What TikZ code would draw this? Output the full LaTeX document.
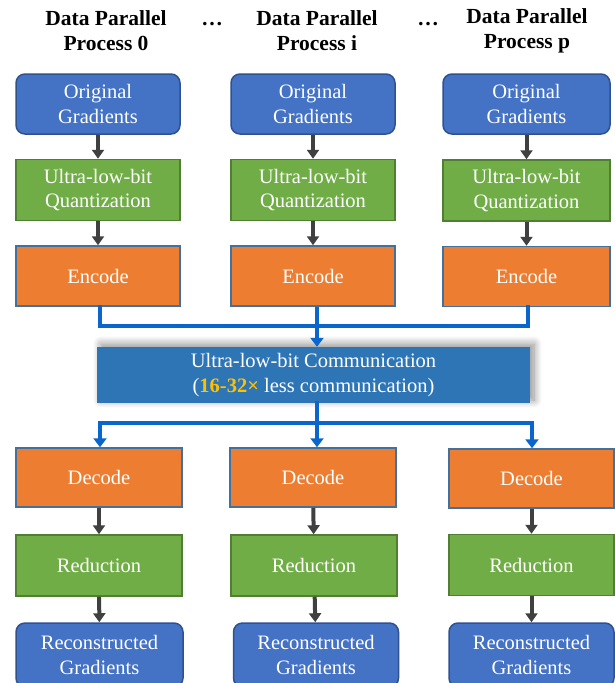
\documentclass[tikz,border=0pt]{standalone}
\usepackage{fontspec}
\setmainfont{Liberation Serif}
\usetikzlibrary{arrows.meta,shadows.blur}
\definecolor{gradblue}{HTML}{4472C4}
\definecolor{gradedge}{HTML}{2F528F}
\definecolor{quantgreen}{HTML}{70AD47}
\definecolor{quantedge}{HTML}{507E32}
\definecolor{codeorange}{HTML}{ED7D31}
\definecolor{codeedge}{HTML}{41719C}
\definecolor{commblue}{HTML}{2E75B6}
\definecolor{busblue}{HTML}{0A66CC}
\definecolor{gold}{HTML}{FFC000}
\tikzset{
  box/.style={draw, line width=1.5pt, text=white, align=center, inner sep=0pt,
    minimum width=164pt, minimum height=60pt, font=\fontsize{20.5}{24.5}\selectfont},
  grad/.style={box, fill=gradblue, draw=gradedge, rounded corners=9pt},
  quant/.style={box, fill=quantgreen, draw=quantedge},
  code/.style={box, fill=codeorange, draw=codeedge},
  head/.style={align=center, font=\fontsize{21.5}{25}\selectfont\bfseries},
  link/.style={-{Triangle[length=9pt,width=12pt]}, line width=4pt, draw=black!75},
  bus/.style={line width=4pt, draw=busblue, line cap=rect},
  bus arrow/.style={bus, line cap=butt, -{Triangle[length=9pt,width=13pt]}}
}
\begin{document}
\begin{tikzpicture}[x=1pt,y=-1pt]
  \useasboundingbox (0,0) rectangle (615,683);

  % column headers
  \node[head] (head0) at (106,31) {Data Parallel\\Process 0};
  \node[head] (head1) at (317,31) {Data Parallel\\Process i};
  \node[head] (head2) at (527,31) {Data Parallel\\Process p};
  \node[head] (dots0) at (212,24) {\dots};
  \node[head] (dots1) at (428,24) {\dots};

  % upper half: per-process encoding
  \node[grad] (orig0) at (98,104) {Original\\Gradients};
  \node[grad] (orig1) at (313,104) {Original\\Gradients};
  \node[grad, minimum width=167pt] (orig2) at (526.5,104) {Original\\Gradients};
  \node[quant, minimum height=61pt] (quant0) at (98,190) {Ultra-low-bit\\Quantization};
  \node[quant, minimum height=61pt] (quant1) at (313,190) {Ultra-low-bit\\Quantization};
  \node[quant, minimum height=61pt, minimum width=167pt] (quant2) at (526.5,190.5) {Ultra-low-bit\\Quantization};
  \node[code] (enc0) at (98,276) {Encode};
  \node[code] (enc1) at (313,276) {Encode};
  \node[code, minimum width=167pt] (enc2) at (526.5,276.5) {Encode};

  \foreach \i in {0,1,2} {
    \draw[link] (orig\i) -- (quant\i);
    \draw[link] (quant\i) -- (enc\i);
  }

  % communication
  \node[fill=commblue, minimum width=433pt, minimum height=56pt, inner sep=0pt,
    text=white, align=center, font=\fontsize{20.5}{25}\selectfont,
    blur shadow={shadow xshift=4pt, shadow yshift=3pt, shadow blur steps=10,
      shadow blur radius=8pt, shadow opacity=45}] (comm) at (313.5,375)
    {Ultra-low-bit Communication\\(\textcolor{gold}{\textbf{16-32×}} less communication)};

  \coordinate (merge) at (317,326);
  \coordinate (split) at (317,423);
  \draw[bus] (enc0.south -| 100,0) |- (merge);
  \draw[bus] (enc2.south -| 528,0) |- (merge);
  \draw[bus arrow] (enc1.south -| merge) -- (comm.north -| merge);

  \draw[bus] (comm.south -| split) -- (split);
  \draw[bus] (split) -| (100,432);
  \draw[bus] (split) -| (532,432);

  % lower half: per-process decoding
  \node[code, minimum width=166pt, minimum height=59pt] (dec0) at (99,477.5) {Decode};
  \node[code, minimum width=166pt, minimum height=59pt] (dec1) at (313,477.5) {Decode};
  \node[code, minimum width=165pt, minimum height=59pt] (dec2) at (531.5,478.5) {Decode};
  \node[quant, minimum width=166pt, minimum height=61pt] (red0) at (99,565.5) {Reduction};
  \node[quant, minimum width=166pt, minimum height=61pt] (red1) at (314,565.5) {Reduction};
  \node[quant, minimum width=165pt, minimum height=61pt] (red2) at (531.5,565) {Reduction};
  \node[grad, minimum width=167pt, minimum height=64pt] (rec0) at (99.5,655) {Reconstructed\\Gradients};
  \node[grad, minimum width=165pt, minimum height=64pt] (rec1) at (316,655) {Reconstructed\\Gradients};
  \node[grad, minimum width=165pt, minimum height=64pt] (rec2) at (531.5,655) {Reconstructed\\Gradients};

  \draw[bus arrow] (100,421) -- (dec0.north -| 100,0);
  \draw[bus arrow] (split) -- (dec1.north -| split);
  \draw[bus arrow] (532,421) -- (dec2.north -| 532,0);

  \foreach \i in {0,1,2} {
    \draw[link] (dec\i) -- (red\i);
    \draw[link] (red\i) -- (rec\i);
  }
\end{tikzpicture}
\end{document}
